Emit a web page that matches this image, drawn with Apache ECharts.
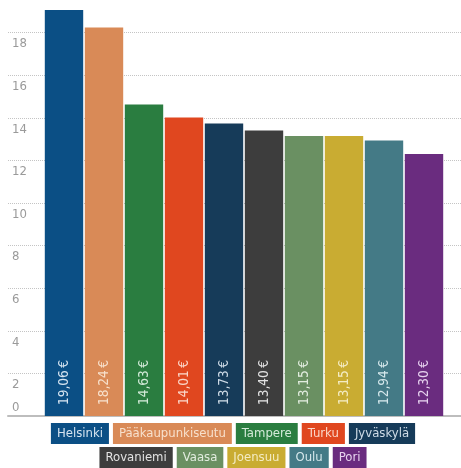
<!DOCTYPE html>
<html><head><meta charset="utf-8">
<script src="https://cdn.jsdelivr.net/npm/echarts@6/dist/echarts.min.js"></script>
<style>html,body{margin:0;padding:0;background:#fff}#c{width:461px;height:468px}</style>
</head><body><div id="c"></div>
<script>
var cities = ['Helsinki','Pääkaupunkiseutu','Tampere','Turku','Jyväskylä','Rovaniemi','Vaasa','Joensuu','Oulu','Pori'];
var values = [19.06,18.24,14.63,14.01,13.73,13.40,13.15,13.15,12.94,12.30];
var colors = ['#0b4f85','#d98a57','#2a7d40','#e0471f','#163b59','#3d3d3d','#6a9062','#c9ac32','#447a86','#6a2c7f'];
var textColors = ['#d6e4f0','#f7e0cc','#d3ead8','#fad6c8','#cfdbe6','#e2e2e2','#e2ecdf','#f4ecc4','#d6e8ec','#e6d2ee'];
var yTicks = [0,2,4,6,8,10,12,14,16,18];
var row1 = cities.slice(0,5), row2 = cities.slice(5);

var FONT = "'DejaVu Sans Condensed','Liberation Sans Narrow',sans-serif";
function fmt(v){ return v.toFixed(2).replace('.', ',') + '\u2009€'; }
function legendData(names){
  return names.map(function(n){
    var i = cities.indexOf(n);
    return {name:n, textStyle:{backgroundColor:colors[i], color:textColors[i], padding:[3,6,3,6]}};
  });
}
var series = cities.map(function(name,i){
  var d = cities.map(function(_,j){ return j===i ? values[i] : '-'; });
  return {
    name:name, type:'bar', stack:'all', xAxisIndex:1, yAxisIndex:2,
    barCategoryGap:'4%', data:d,
    itemStyle:{color:colors[i]},
    label:{show:true, position:'insideBottom', rotate:90, align:'left', verticalAlign:'middle',
      distance:11, color:textColors[i], fontFamily:FONT, fontSize:13.5,
      formatter:function(p){ return fmt(p.value); }}
  };
});
var chart = echarts.init(document.getElementById('c'));
chart.setOption({
  animation:false,
  grid:[{left:8,right:0,top:-10,bottom:52,outerBoundsMode:'none'},{left:44,right:17,top:-10,bottom:52,outerBoundsMode:'none'}],
  xAxis:[
    {gridIndex:0,type:'value',min:0,max:1,axisLine:{show:true,lineStyle:{color:'#bdbdbd',width:2}},axisTick:{show:false},axisLabel:{show:false},splitLine:{show:false}},
    {gridIndex:1,type:'category',data:cities,axisLine:{show:false},axisTick:{show:false},axisLabel:{show:false}}
  ],
  yAxis:[
    {gridIndex:0,type:'value',min:0,max:20,interval:2,position:'left',axisLine:{show:false},axisTick:{show:false},
      splitLine:{show:true,lineStyle:{color:'#c4c4c4',type:'dotted',width:1}},
      axisLabel:{inside:true,margin:4,verticalAlign:'top',padding:[5,0,0,0],color:'#9a9a9a',fontFamily:FONT,fontSize:13,
        formatter:function(v){ return (v>0 && yTicks.indexOf(v)>=0) ? String(v) : ''; }}},
    {gridIndex:0,type:'value',min:0,max:20,interval:2,position:'left',axisLine:{show:false},axisTick:{show:false},splitLine:{show:false},
      axisLabel:{inside:true,margin:4,verticalAlign:'bottom',padding:[0,0,2,0],color:'#9a9a9a',fontFamily:FONT,fontSize:13,
        formatter:function(v){ return v===yTicks[0] ? String(v) : ''; }}},
    {gridIndex:1,type:'value',min:0,max:20,show:false,splitLine:{show:false}}
  ],
  legend:[
    {data:legendData(row1),top:423,left:'center',padding:0,itemGap:-1,itemWidth:0,itemHeight:0,icon:'rect',selectedMode:false,
      textStyle:{fontFamily:FONT,fontSize:13,lineHeight:15}},
    {data:legendData(row2),top:447,left:'center',padding:0,itemGap:-1,itemWidth:0,itemHeight:0,icon:'rect',selectedMode:false,
      textStyle:{fontFamily:FONT,fontSize:13,lineHeight:15}}
  ],
  series:series
});
</script></body></html>
